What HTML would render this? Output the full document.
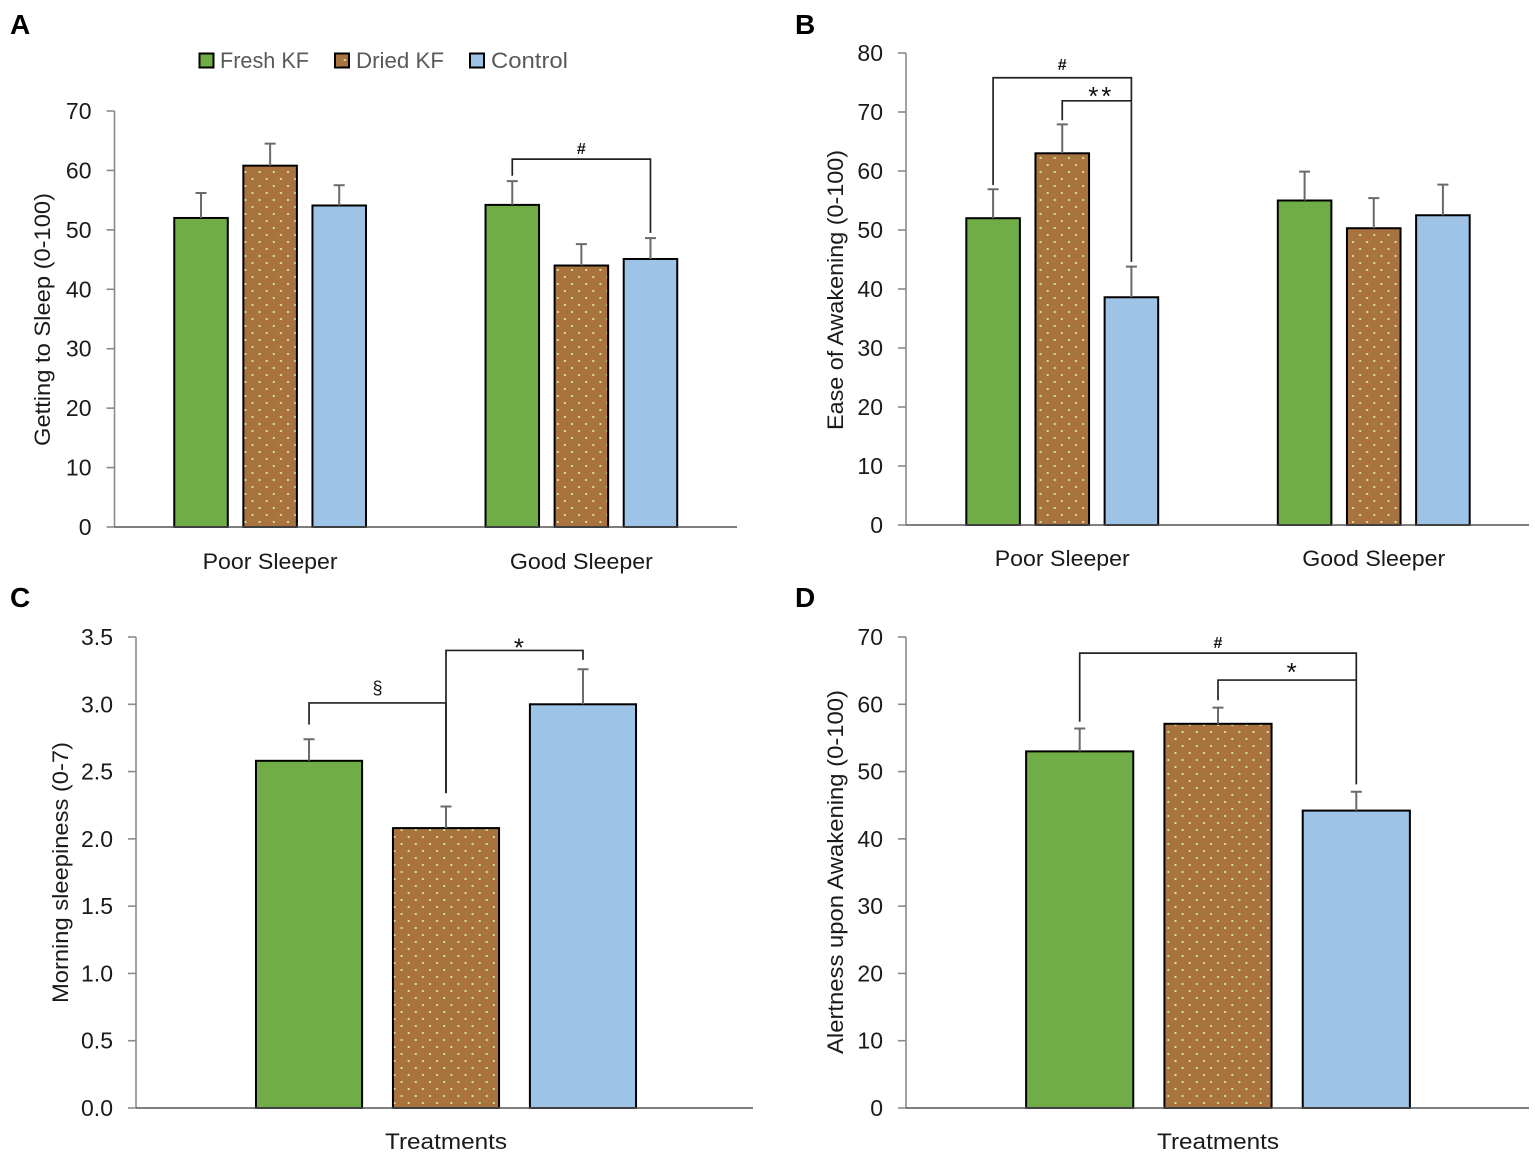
<!DOCTYPE html>
<html lang="en">
<head>
<meta charset="utf-8">
<title>Sleep outcomes by treatment</title>
<style>
  html, body { margin: 0; padding: 0; background: #fff; }
  svg { display: block; font-family: "Liberation Sans", "DejaVu Sans", sans-serif; }
</style>
</head>
<body>
<svg id="figure" width="1535" height="1156" viewBox="0 0 1535 1156" xmlns="http://www.w3.org/2000/svg">
  <defs>
    <pattern id="dots" patternUnits="userSpaceOnUse" width="14.2" height="14">
      <rect width="14.2" height="14" fill="#A8733F"></rect>
      <rect x="3" y="3" width="2" height="2" fill="#D2E096"></rect>
      <rect x="10.1" y="10" width="2" height="2" fill="#D2E096"></rect>
    </pattern>
  </defs>
  <g>
    <g>
      <rect x="199.5" y="53.5" width="14" height="14" fill="#70AD47" stroke="#000" stroke-width="2"></rect>
      <text x="220" y="68" font-size="22.5" fill="#595959" textLength="89" lengthAdjust="spacingAndGlyphs">Fresh KF</text>
    </g>
    <g>
      <rect x="335" y="53.5" width="14" height="14" fill="url(#dots)" stroke="#000" stroke-width="2"></rect>
      <text x="356" y="68" font-size="22.5" fill="#595959" textLength="88" lengthAdjust="spacingAndGlyphs">Dried KF</text>
    </g>
    <g>
      <rect x="470" y="53.5" width="14" height="14" fill="#9DC3E6" stroke="#000" stroke-width="2"></rect>
      <text x="491" y="68" font-size="22.5" fill="#595959" textLength="77" lengthAdjust="spacingAndGlyphs">Control</text>
    </g>
  </g>
</svg>
<script>
// ---- Chart data ----
const seriesNames = ['Fresh KF', 'Dried KF', 'Control'];

const categoriesA = ['Poor Sleeper', 'Good Sleeper'];
const ticksA = [0, 10, 20, 30, 40, 50, 60, 70];
const meansA = [[52, 60.8, 54.1], [54.2, 44, 45.1]];
const errorTopsA = [[56.2, 64.5, 57.5], [58.2, 47.6, 48.6]];

const categoriesB = ['Poor Sleeper', 'Good Sleeper'];
const ticksB = [0, 10, 20, 30, 40, 50, 60, 70, 80];
const meansB = [[52, 63, 38.6], [55, 50.3, 52.5]];
const errorTopsB = [[56.9, 67.9, 43.8], [59.9, 55.4, 57.7]];

const categoriesC = ['Treatments'];
const ticksC = ['0.0', '0.5', '1.0', '1.5', '2.0', '2.5', '3.0', '3.5'];
const meansC = [[2.58, 2.08, 3.0]];
const errorTopsC = [[2.74, 2.24, 3.26]];

const categoriesD = ['Treatments'];
const ticksD = [0, 10, 20, 30, 40, 50, 60, 70];
const meansD = [[53, 57.1, 44.2]];
const errorTopsD = [[56.4, 59.5, 47]];

// Significance brackets, in data terms: symbol, from/to [category, series], level and end values
const bracketsA = [['#', [1, 0], [1, 2], 61.9, 59.1, 49.5]];
const bracketsB = [['#', [0, 0], [0, 2], 75.8, 57.6, 44.6], ['**', [0, 1], [0, 2], 71.9, 68.6, 71.9]];
const bracketsC = [['§', [0, 0], [0, 1], 3.01, 2.85, 2.34], ['*', [0, 1], [0, 2], 3.40, 2.34, 3.33]];
const bracketsD = [['#', [0, 0], [0, 2], 67.6, 57.4, 48.1], ['*', [0, 1], [0, 2], 63.6, 60.6, 63.6]];

// ---- Rendering ----
const NS = 'http://www.w3.org/2000/svg';
const figure = document.getElementById('figure');
const seriesFills = ['#70AD47', 'url(#dots)', '#9DC3E6'];
const STEP_FRACTION = 0.222;
const BAR_FRACTION = 0.172;

function make(tag, parent, attrs, text) {
  const el = document.createElementNS(NS, tag);
  for (const key in attrs) el.setAttribute(key, attrs[key]);
  if (text !== undefined) el.textContent = text;
  parent.appendChild(el);
  return el;
}
function slug(s) { return s.toLowerCase().replace(/\s+/g, '-'); }

function drawChart(c) {
  const chart = make('g', figure, {});
  
  

  const yMax = Number(c.ticks[c.ticks.length - 1]);
  const y = v => c.y0 + (c.yTop - c.y0) * (v / yMax);
  const catWidth = (c.right - c.left) / c.categories.length;
  const catCenter = i => c.left + (i + 0.5) * catWidth + c.shift;
  const barCenter = (i, s) => catCenter(i) + (s - 1) * STEP_FRACTION * (c.right - c.left) / c.categories.length;
  const barWidth = BAR_FRACTION * catWidth;

  const letter = make('text', chart, { x: c.letterX, y: c.letterY, 'font-size': 28, 'font-weight': 'bold', fill: '#000' }, c.letter);
  
  

  // bars
  c.means.forEach((group, i) => {
    group.forEach((value, s) => {
      const bar = make('rect', chart, {
        x: barCenter(i, s) - barWidth / 2, y: y(value),
        width: barWidth, height: y(0) - y(value),
        fill: seriesFills[s], stroke: '#000', 'stroke-width': 2
      });
      
      

      const top = c.errorTops[i][s];
      const cx = barCenter(i, s);
      const err = make('path', chart, {
        d: 'M' + cx + ' ' + y(value) + 'V' + y(top) + 'M' + (cx - 5.5) + ' ' + y(top) + 'H' + (cx + 5.5),
        fill: 'none', stroke: '#6a6a6a', 'stroke-width': 2
      });
      
      
    });
  });

  // y axis with ticks
  const yAxis = make('g', chart, {});
  
  
  make('path', yAxis, { d: 'M' + c.left + ' ' + y(0) + 'V' + y(yMax), stroke: '#8a8a8a', 'stroke-width': 1.6, fill: 'none' });
  c.ticks.forEach(t => {
    const py = y(Number(t));
    make('path', yAxis, { d: 'M' + (c.left - 8) + ' ' + py + 'H' + c.left, stroke: '#8a8a8a', 'stroke-width': 1.6, fill: 'none' });
    const label = make('text', yAxis, { x: c.left - 23, y: py + 8, 'text-anchor': 'end', 'font-size': 23, fill: '#1a1a1a' }, String(t));
    
    
  });

  // x axis
  const xAxis = make('path', chart, { d: 'M' + c.left + ' ' + y(0) + 'H' + c.right, stroke: '#555', 'stroke-width': 1.6, fill: 'none' });
  
  

  c.categories.forEach((name, i) => {
    const label = make('text', chart, {
      x: catCenter(i), y: c.catLabelY, 'text-anchor': 'middle', 'font-size': 22.5, fill: '#1a1a1a',
      textLength: c.catLabelWidths[i], lengthAdjust: 'spacingAndGlyphs'
    }, name);
    
    
  });

  // y-axis title
  const title = make('text', chart, {
    transform: 'translate(' + c.titleX + ' ' + c.titleY + ') rotate(-90)',
    'text-anchor': 'middle', 'font-size': 22.5, fill: '#1a1a1a',
    textLength: c.titleWidth, lengthAdjust: 'spacingAndGlyphs'
  }, c.title);
  
  

  // brackets
  c.brackets.forEach(b => {
    const x1 = barCenter(b[1][0], b[1][1]);
    const x2 = barCenter(b[2][0], b[2][1]);
    const line = make('path', chart, {
      d: 'M' + x1 + ' ' + y(b[4]) + 'V' + y(b[3]) + 'H' + x2 + 'V' + y(b[5]),
      fill: 'none', stroke: '#222', 'stroke-width': 1.7
    });
    
    

    const star = b[0].indexOf('*') >= 0;
    const hash = b[0] === '#';
    const size = star ? 26 : (hash ? 16 : 18);
    const lift = star ? -c.starDrop : (hash ? c.hashLift : 9);
    const mark = make('text', chart, {
      x: (x1 + x2) / 2 + (star ? 4.5 : 0), y: y(b[3]) - lift,
      'text-anchor': 'middle', 'font-size': size, fill: '#111',
      'font-weight': hash ? 'bold' : 'normal',
      'letter-spacing': b[0].length > 1 ? 3 : 0
    }, b[0]);
    
    
  });
}

drawChart({
  letter: 'A', letterX: 10, letterY: 34, shift: 0, hashLift: 5, starDrop: 4,
  left: 114.5, right: 737, y0: 527, yTop: 111,
  ticks: ticksA, categories: categoriesA, means: meansA, errorTops: errorTopsA, brackets: bracketsA,
  catLabelY: 569, catLabelWidths: [135, 143],
  title: 'Getting to Sleep (0-100)', titleX: 50, titleY: 319.5, titleWidth: 253
});
drawChart({
  letter: 'B', letterX: 795, letterY: 34, shift: 0.5, hashLift: 8, starDrop: 4,
  left: 906, right: 1529, y0: 525, yTop: 53,
  ticks: ticksB, categories: categoriesB, means: meansB, errorTops: errorTopsB, brackets: bracketsB,
  catLabelY: 566, catLabelWidths: [135, 143],
  title: 'Ease of Awakening (0-100)', titleX: 843, titleY: 290, titleWidth: 280
});
drawChart({
  letter: 'C', letterX: 10, letterY: 607, shift: 1.5, hashLift: 5, starDrop: 6,
  left: 136, right: 753, y0: 1108, yTop: 637,
  ticks: ticksC, categories: categoriesC, means: meansC, errorTops: errorTopsC, brackets: bracketsC,
  catLabelY: 1149, catLabelWidths: [122],
  title: 'Morning sleepiness (0-7)', titleX: 68, titleY: 872.5, titleWidth: 261
});
drawChart({
  letter: 'D', letterX: 795, letterY: 607, shift: 0.5, hashLift: 5, starDrop: 1,
  left: 906, right: 1529, y0: 1108, yTop: 637,
  ticks: ticksD, categories: categoriesD, means: meansD, errorTops: errorTopsD, brackets: bracketsD,
  catLabelY: 1149, catLabelWidths: [122],
  title: 'Alertness upon Awakening (0-100)', titleX: 843, titleY: 872, titleWidth: 364
});
</script>
</body>
</html>
